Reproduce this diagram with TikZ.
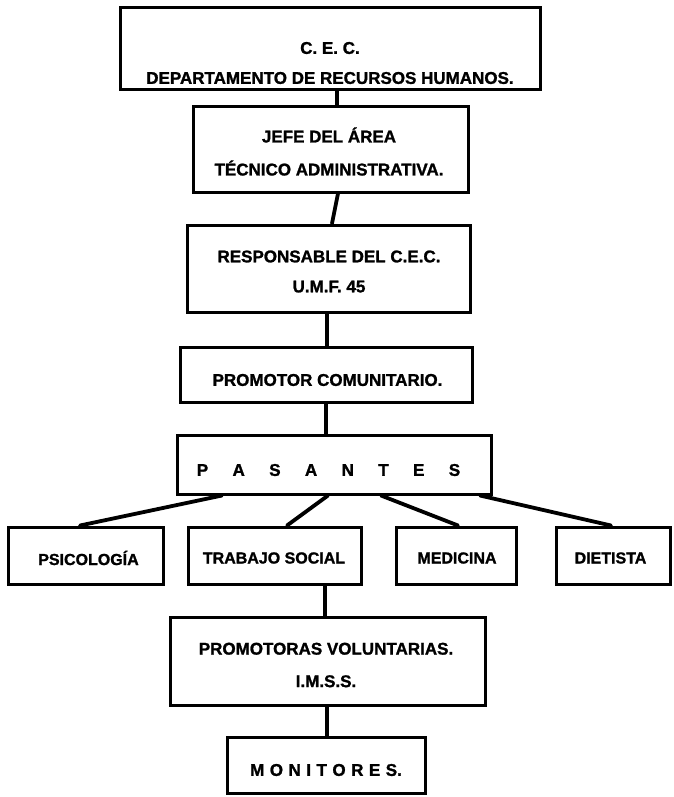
\documentclass[tikz,border=0pt]{standalone}
\usepackage{fontspec}
\setmainfont{Liberation Sans}[BoldFeatures={FakeBold=1.3}]
\usetikzlibrary{calc}
\newcommand{\psgap}{\hspace{24.4pt}}
\newcommand{\mogap}{\hspace{5.5pt}}
\begin{document}
\begin{tikzpicture}[x=1pt,y=-1pt]
\tikzset{
  box/.style={draw=black, line width=3pt, rectangle, inner sep=0pt},
  txt/.style={align=center, inner sep=0pt, font=\fontsize{17}{30}\selectfont\bfseries},
  txts/.style={align=center, inner sep=0pt, font=\fontsize{16}{20}\selectfont\bfseries},
  link/.style={line width=3.8pt, line cap=round}
}
\fill[white] (0,0) rectangle (673,797);
\useasboundingbox (0,0) rectangle (673,797);

% boxes
\node[box, minimum width=420pt, minimum height=82pt] (b1) at (330,49) {};
\node[txt] (t1) at (330,63) {C. E. C.\\DEPARTAMENTO DE RECURSOS HUMANOS.};

\node[box, minimum width=275pt, minimum height=85pt] (b2) at (330.5,149.5) {};
\node[txt] (t2) at (329,151.5) {JEFE DEL ÁREA\\[3pt]TÉCNICO ADMINISTRATIVA.};

\node[box, minimum width=283pt, minimum height=87pt] (b3) at (328.5,268.5) {};
\node[txt] (t3) at (329,271.5) {RESPONSABLE DEL C.E.C.\\U.M.F. 45};

\node[box, minimum width=292pt, minimum height=55pt] (b4) at (326,374.5) {};
\node[txt] (t4) at (327.5,380) {PROMOTOR COMUNITARIO.};

\node[box, minimum width=314pt, minimum height=59pt] (b5) at (334,464.5) {};
\node[txt] (t5) at (328.5,470) {P\psgap A\psgap S\psgap A\psgap N\psgap T\psgap E\psgap S};

\node[box, minimum width=155pt, minimum height=57pt] (psi) at (85.5,555.5) {};
\node[txts] (tpsi) at (88.5,558) {PSICOLOGÍA};

\node[box, minimum width=173pt, minimum height=57pt] (tra) at (274.5,555.5) {};
\node[txts] (ttra) at (274,558) {TRABAJO SOCIAL};

\node[box, minimum width=120pt, minimum height=57pt] (med) at (456,555.5) {};
\node[txts] (tmed) at (457,558) {MEDICINA};

\node[box, minimum width=114pt, minimum height=57pt] (die) at (613,555.5) {};
\node[txts] (tdie) at (610.5,558) {DIETISTA};

\node[box, minimum width=315pt, minimum height=88pt] (pro) at (327.5,661) {};
\node[txt] (tpro) at (326,665) {PROMOTORAS VOLUNTARIAS.\\[2.5pt]I.M.S.S.};

\node[box, minimum width=198pt, minimum height=56pt] (mon) at (326,765.5) {};
\node[txt] (tmon) at (326,770) {M\mogap O\mogap N\mogap I\mogap T\mogap O\mogap R\mogap E\mogap S.};

% connectors
\draw[link] ([xshift=7pt]b1.south) -- ([xshift=6.5pt]b2.north);
\draw[link] ([xshift=7.5pt]b2.south) -- ([xshift=3.5pt]b3.north);
\draw[link] ([xshift=-1.5pt]b3.south) -- ([xshift=1pt]b4.north);
\draw[link] ([xshift=0pt]b4.south) -- ([xshift=-8pt]b5.north);
\draw[link] ([xshift=-112pt]b5.south) -- ([xshift=-5.5pt]psi.north);
\draw[link] ([xshift=-6pt]b5.south) -- ([xshift=12.5pt]tra.north);
\draw[link] ([xshift=47pt]b5.south) -- ([xshift=2pt]med.north);
\draw[link] ([xshift=146pt]b5.south) -- ([xshift=-2pt]die.north);
\draw[link] ([xshift=50.5pt]tra.south) -- ([xshift=-2.5pt]pro.north);
\draw[link] ([xshift=-0.5pt]pro.south) -- ([xshift=1pt]mon.north);
\end{tikzpicture}
\end{document}
